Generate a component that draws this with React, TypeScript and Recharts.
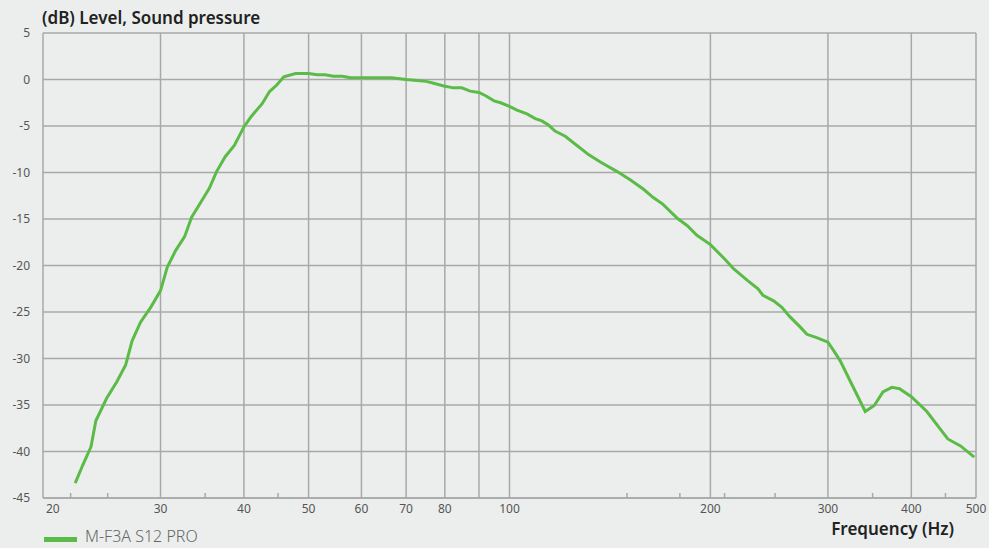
import { LineChart, Line, XAxis, YAxis, CartesianGrid, ReferenceLine, Legend, Label } from 'recharts';

const freqs = [
  22.35, 22.96, 23.6, 24.0, 24.9, 25.8, 26.6, 27.2, 28.0, 29.0,
  30.0, 30.7, 31.6, 32.6, 33.4, 34.4, 35.5, 36.4, 37.5, 38.7,
  40.0, 41.0, 42.6, 43.7, 44.8, 45.9, 47.8, 50.0, 51.5, 52.9,
  54.5, 56.2, 57.8, 66.6, 70.0, 72.7, 75.0, 77.0, 79.7, 82.4,
  84.8, 87.3, 90.0, 92.1, 94.8, 97.0, 100, 102.6, 106.2, 109.3,
  111.8, 114.4, 117, 121.2, 126.2, 131.5, 137, 145, 151.8, 158.8,
  164.2, 169.7, 178.6, 184.5, 190.9, 200, 210.4, 216.6, 227.2, 235.7,
  239.7, 248.7, 255.9, 263, 272.5, 279, 288.6, 300, 305.6, 313,
  326.4, 341.2, 352, 362.7, 374, 384, 400, 422, 453.6, 474,
  497,
];

const levels = [
  -43.4, -41.4, -39.5, -36.7, -34.3, -32.5, -30.7, -28.1, -26.1, -24.5,
  -22.7, -20.2, -18.4, -16.9, -14.8, -13.3, -11.7, -9.9, -8.3, -7.1,
  -5.1, -4.0, -2.6, -1.3, -0.6, 0.3, 0.65, 0.65, 0.5, 0.5,
  0.35, 0.35, 0.2, 0.2, 0.0, -0.1, -0.2, -0.4, -0.7, -0.9,
  -0.9, -1.25, -1.4, -1.75, -2.3, -2.5, -2.9, -3.3, -3.7, -4.2,
  -4.45, -4.9, -5.55, -6.1, -7.1, -8.1, -8.9, -9.9, -10.8, -11.8,
  -12.7, -13.4, -14.95, -15.7, -16.75, -17.75, -19.35, -20.35, -21.6, -22.5,
  -23.2, -23.8, -24.5, -25.5, -26.6, -27.4, -27.75, -28.25, -29.1, -30.25,
  -32.9, -35.7, -35.05, -33.6, -33.1, -33.25, -34.1, -35.7, -38.65, -39.4,
  -40.6,
];

const labelTicks = [20, 30, 40, 50, 60, 70, 80, 100, 200, 300, 400, 500];
const minorTicks = [22, 25, 35, 45, 150, 180, 210, 250, 350, 450];
const gridFreqs = [30, 40, 50, 60, 70, 80, 90, 100, 200, 300, 400, 500];
const yTicks = [-45, -40, -35, -30, -25, -20, -15, -10, -5, 0, 5];

const seriesName = 'M-F3A S12 PRO';
const yTitle = '(dB) Level, Sound pressure';
const xTitle = 'Frequency (Hz)';

const data = freqs.map((f, i) => ({ f, level: levels[i] }));
const xTicks = [...labelTicks, ...minorTicks, 90].sort((a, b) => a - b);

const GREEN = '#5bbb47';
const GRID = '#a8a8a8';
const FONT = '"Noto Sans", sans-serif';

function XTick(props: any) {
  const { x, y, payload } = props;
  const v = payload.value;
  if (minorTicks.includes(v)) {
    return <line x1={x} x2={x} y1={y - 5} y2={y} stroke={GRID} strokeWidth={1.5} />;
  }
  if (!labelTicks.includes(v)) return <g />;
  const first = v === 20;
  return (
    <text
      x={first ? x + 3 : x}
      y={y + 6}
      dy="0.71em"
      textAnchor={first ? 'start' : 'middle'}
      fill="#555"
      fontSize={12}
      fontFamily={FONT}
    >
      {v}
    </text>
  );
}

function LegendBox() {
  return (
    <div style={{ display: 'flex', alignItems: 'center', fontFamily: FONT, lineHeight: '22px' }}>
      <span
        style={{ display: 'inline-block', width: 33, height: 5, background: GREEN, marginRight: 8, position: 'relative', top: 3 }}
      />
      <span style={{ fontSize: 16, fontWeight: 300, color: '#666', whiteSpace: 'nowrap' }}>{seriesName}</span>
    </div>
  );
}

export default function App() {
  return (
    <div style={{ position: 'absolute', left: 0, top: 0, width: 989, height: 548, background: '#eceeed', overflow: 'hidden' }}>
      <LineChart width={989} height={548} data={data} margin={{ top: 33, right: 13, bottom: 20, left: 0 }}>
        <CartesianGrid vertical={false} stroke={GRID} strokeWidth={1.5} />
        <XAxis
          dataKey="f"
          type="number"
          scale="log"
          domain={[20, 500]}
          ticks={xTicks}
          interval={0}
          height={30}
          tickSize={0}
          tickMargin={0}
          tickLine={false}
          tick={<XTick />}
          axisLine={{ stroke: GRID, strokeWidth: 1.5 }}
          allowDataOverflow
        >
          <Label
            content={() => (
              <text x={954} y={535} textAnchor="end" fontSize={17} fontWeight={600} fill="#222" fontFamily={FONT}>
                {xTitle}
              </text>
            )}
          />
        </XAxis>
        <YAxis
          type="number"
          domain={[-45, 5]}
          ticks={yTicks}
          interval={0}
          width={43}
          tickSize={0}
          tickMargin={13}
          tickLine={false}
          axisLine={{ stroke: GRID, strokeWidth: 1.5 }}
          tick={{ fill: '#555', fontSize: 12, fontFamily: FONT }}
        >
          <Label
            content={() => (
              <text x={42} y={24} textAnchor="start" fontSize={17} fontWeight={600} fill="#222" fontFamily={FONT}>
                {yTitle}
              </text>
            )}
          />
        </YAxis>
        {gridFreqs.map((g) => (
          <ReferenceLine key={g} x={g} stroke={GRID} strokeWidth={1.5} />
        ))}
        <Legend
          layout="horizontal"
          verticalAlign="middle"
          align="center"
          wrapperStyle={{ left: 44, top: 525, width: 'auto', height: 'auto' }}
          content={() => <LegendBox />}
        />
        <Line
          type="linear"
          dataKey="level"
          name={seriesName}
          stroke={GREEN}
          strokeWidth={3}
          dot={false}
          isAnimationActive={false}
        />
      </LineChart>
    </div>
  );
}
